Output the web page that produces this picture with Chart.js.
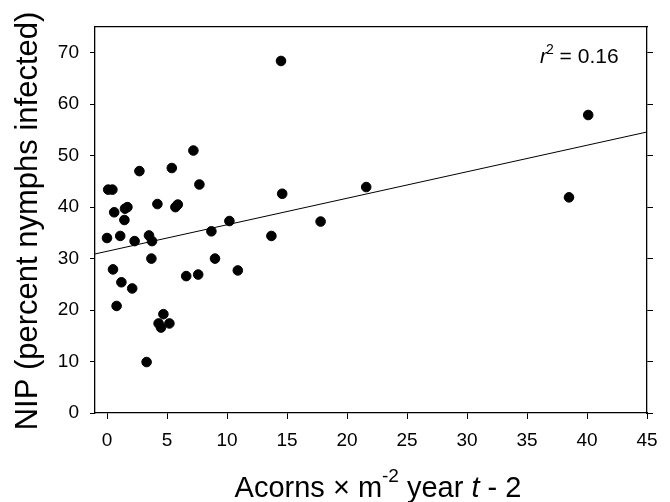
<!DOCTYPE html>
<html>
<head>
<meta charset="utf-8">
<title>NIP vs acorns</title>
<script src="https://cdn.jsdelivr.net/npm/chart.js@4/dist/chart.umd.min.js"></script>
<style>
  html, body { margin: 0; padding: 0; background: #fff; }
  #wrap { width: 670px; height: 502px; }
</style>
</head>
<body>
<div id="wrap"><canvas id="chart" width="670" height="502"></canvas></div>
<script>
// acorns per m2 two years before, and percent of nymphs infected
const acorns = [14.5, 7.2, 2.7, 5.4, 7.7, 14.6, 21.6, 0.1, 0.45, 0.6, 1.5, 1.7, 4.2, 5.7, 5.9,
    1.45, 10.2, 17.8, 8.7, 13.7, 0.0, 1.1, 3.5, 2.3, 3.75, 3.7, 9.0, 0.5, 10.9, 6.6, 7.6,
    1.2, 2.1, 0.8, 4.7, 4.3, 4.5, 5.2, 3.3, 40.1, 38.5];
const nip = [68.4, 51.0, 47.0, 47.6, 44.4, 42.6, 43.9, 43.4, 43.4, 39.0, 39.7, 40.0, 40.6, 40.0, 40.5,
    37.5, 37.3, 37.2, 35.3, 34.4, 34.0, 34.4, 34.5, 33.4, 33.4, 30.0, 30.0, 27.9, 27.7, 26.6, 26.9,
    25.4, 24.2, 20.8, 19.2, 17.4, 16.6, 17.4, 9.9, 57.9, 41.9];

// regression line end points (read at the axis edges)
const fitX = [-1, 45];
const fitY = [30.9, 54.6];

const xTicks = [0, 5, 10, 15, 20, 25, 30, 35, 40, 45];
const yTicks = [0, 10, 20, 30, 40, 50, 60, 70];
const rSquared = '0.16';
const yTitle = 'NIP (percent nymphs infected)';

const FONT = '"Liberation Sans", Arial, sans-serif';

// fix the plot box so it sits where the original one does
function fixWidth(w) { return function (scale) { scale.width = w; }; }
function fixHeight(h) { return function (scale) { scale.height = h; }; }
function useTicks(list) { return function (scale) { scale.ticks = list.map(v => ({ value: v })); }; }

const textPlugin = {
    id: 'extraText',
    afterDraw(chart) {
        const ctx = chart.ctx;
        ctx.save();
        ctx.fillStyle = '#000';
        ctx.textBaseline = 'alphabetic';
        ctx.textAlign = 'left';

        // x axis title with superscript and italic t
        const parts = [
            { t: 'Acorns \u00d7 m', f: '29px ' + FONT, dy: 0 },
            { t: '-2', f: '19px ' + FONT, dy: -15 },
            { t: ' year ', f: '29px ' + FONT, dy: 0 },
            { t: 't', f: 'italic 29px ' + FONT, dy: 0 },
            { t: ' - 2', f: '29px ' + FONT, dy: 0 }
        ];
        let total = 0;
        parts.forEach(p => { ctx.font = p.f; p.w = ctx.measureText(p.t).width; total += p.w; });
        let x = 378 - total / 2;
        const base = 497;
        parts.forEach(p => { ctx.font = p.f; ctx.fillText(p.t, x, base + p.dy); x += p.w; });

        // y axis title, reading upwards
        ctx.save();
        ctx.translate(36.5, 221);
        ctx.rotate(-Math.PI / 2);
        ctx.textAlign = 'center';
        ctx.font = '31px ' + FONT;
        ctx.fillText(yTitle, 0, 0);
        ctx.restore();

        // r squared label
        let rx = 540;
        const rb = 63;
        ctx.font = 'italic 21px ' + FONT;
        ctx.fillText('r', rx, rb);
        rx += ctx.measureText('r').width;
        ctx.font = '14px ' + FONT;
        ctx.fillText('2', rx - 1, rb - 9);
        rx += ctx.measureText('2').width - 1;
        ctx.font = '21px ' + FONT;
        ctx.fillText(' = ' + rSquared, rx, rb);
        ctx.restore();
    }
};

const tickFont = { family: FONT, size: 19 };

new Chart(document.getElementById('chart').getContext('2d'), {
    type: 'scatter',
    data: {
        datasets: [{
            label: 'NIP',
            data: acorns.map((a, i) => ({ x: a, y: nip[i] })),
            backgroundColor: '#000',
            borderColor: '#000',
            pointRadius: 4.8,
            pointHoverRadius: 4.8,
            order: 1
        }, {
            type: 'line',
            label: 'fit',
            data: fitX.map((a, i) => ({ x: a, y: fitY[i] })),
            borderColor: '#000',
            borderWidth: 1,
            pointRadius: 0,
            fill: false,
            order: 2
        }]
    },
    options: {
        responsive: false,
        animation: false,
        events: [],
        layout: { padding: 0 },
        plugins: {
            legend: { display: false },
            tooltip: { enabled: false }
        },
        scales: {
            x: {
                type: 'linear',
                position: 'bottom',
                min: -1,
                max: 45,
                afterBuildTicks: useTicks(xTicks),
                afterFit: fixHeight(89),
                border: { display: true, color: '#000', width: 1.3 },
                grid: { drawOnChartArea: false, drawTicks: true, tickLength: 6, color: '#000', lineWidth: 1 },
                ticks: { color: '#000', font: tickFont, padding: 10, maxRotation: 0 }
            },
            x2: {
                type: 'linear',
                position: 'top',
                min: -1,
                max: 45,
                afterFit: fixHeight(27),
                border: { display: true, color: '#000', width: 1.3 },
                grid: { display: false },
                ticks: { display: false }
            },
            y: {
                type: 'linear',
                position: 'left',
                min: 0,
                max: 75,
                afterBuildTicks: useTicks(yTicks),
                afterFit: fixWidth(95),
                border: { display: true, color: '#000', width: 1.3 },
                grid: { drawOnChartArea: false, drawTicks: true, tickLength: 5, color: '#000', lineWidth: 1 },
                ticks: { color: '#000', font: tickFont, padding: 11 }
            },
            y2: {
                type: 'linear',
                position: 'right',
                min: 0,
                max: 75,
                afterBuildTicks: useTicks(yTicks),
                afterFit: fixWidth(23),
                border: { display: true, color: '#000', width: 1.3 },
                grid: { drawOnChartArea: false, drawTicks: true, tickLength: 6, color: '#000', lineWidth: 1 },
                ticks: { display: true, callback: () => '', padding: 0 }
            }
        }
    },
    plugins: [textPlugin]
});
</script>
</body>
</html>
